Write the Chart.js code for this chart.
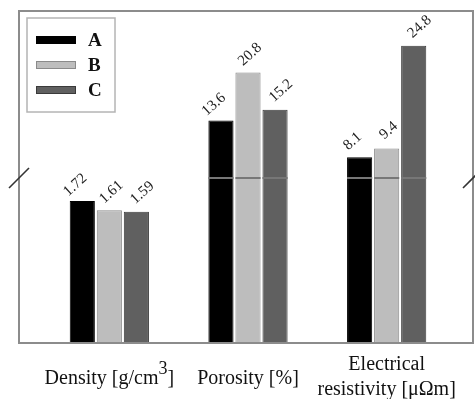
<!DOCTYPE html>
<html><head><meta charset="utf-8">
<script src="https://cdn.jsdelivr.net/npm/chart.js@4.4.1/dist/chart.umd.min.js"></script>
<style>html,body{margin:0;padding:0;background:#fff;} canvas{display:block;}</style>
</head><body>
<canvas id="c" width="475" height="399"></canvas>
<script>
// ---- data ----
const categories = ['Density [g/cm³]', 'Porosity [%]', ['Electrical', 'resistivity [μΩm]']];
const seriesNames = ['A', 'B', 'C'];
const seriesA = [1.72, 13.6, 8.1];
const seriesB = [1.61, 20.8, 9.4];
const seriesC = [1.59, 15.2, 24.8];
const lowerRange = [0, 2];   // below the axis break
const upperRange = [5, 30];  // above the axis break

// ---- styles ----
const fills = ['#000000', '#bdbdbd', '#606060'];
const edges = ['#000000', '#8a8a8a', '#3a3a3a'];
const labelDx = [-7, 2, 6];
const labelDy = [-16, -18, -19];
const allSeries = [seriesA, seriesB, seriesC];
const SERIF = '"Liberation Serif", "DejaVu Serif", serif';

const datasets = [];
allSeries.forEach((vals, i) => {
  datasets.push({
    label: seriesNames[i], stack: seriesNames[i], yAxisID: 'yLow',
    data: vals.map(v => Math.min(v, lowerRange[1])),
    backgroundColor: fills[i], borderColor: edges[i], borderWidth: 1, borderSkipped: 'start'
  });
  datasets.push({
    label: seriesNames[i] + '_up', stack: seriesNames[i], yAxisID: 'yUp', base: upperRange[0],
    data: vals.map(v => v > lowerRange[1] ? v : null),
    backgroundColor: fills[i], borderColor: edges[i], borderWidth: 1, borderSkipped: 'start'
  });
});

const FRAME_L = 21, FRAME_R = 17;
const CAT_FONT = '20px ' + SERIF;
const SUP_FONT = '18px ' + SERIF;

function drawLine(ctx, text, cx, y) {
  // renders '³' as a raised full digit
  const parts = text.split('³');
  let w = 0;
  parts.forEach((p, k) => {
    ctx.font = CAT_FONT; w += ctx.measureText(p).width;
    if (k < parts.length - 1) { ctx.font = SUP_FONT; w += ctx.measureText('3').width; }
  });
  let x = cx - w / 2;
  ctx.textAlign = 'left';
  parts.forEach((p, k) => {
    ctx.font = CAT_FONT; ctx.fillText(p, x, y); x += ctx.measureText(p).width;
    if (k < parts.length - 1) { ctx.font = SUP_FONT; ctx.fillText('3', x, y - 10); x += ctx.measureText('3').width; }
  });
}

const decor = {
  id: 'decor',
  afterDatasetsDraw(chart) {
    const ctx = chart.ctx;
    const ca = chart.chartArea;
    const yLow = chart.scales.yLow;
    const xs = chart.scales.x;
    const breakY = yLow.top;
    const fl = ca.left - FRAME_L, fr = ca.right + FRAME_R;
    ctx.save();
    // break line across bars that cross the break
    allSeries.forEach((vals, i) => {
      const upMeta = chart.getDatasetMeta(i * 2 + 1);
      vals.forEach((v, j) => {
        if (v > lowerRange[1]) {
          const el = upMeta.data[j];
          ctx.strokeStyle = '#777';
          ctx.lineWidth = 2;
          ctx.beginPath();
          ctx.moveTo(el.x - el.width / 2, breakY);
          ctx.lineTo(el.x + el.width / 2, breakY);
          ctx.stroke();
        }
      });
    });
    // frame
    ctx.strokeStyle = '#8c8c8c';
    ctx.lineWidth = 2;
    ctx.strokeRect(fl, ca.top, fr - fl, ca.bottom - ca.top);
    // break marks
    ctx.strokeStyle = '#333';
    ctx.lineWidth = 1.6;
    [fl, fr].forEach(cx => {
      ctx.beginPath();
      ctx.moveTo(cx - 10, breakY + 10);
      ctx.lineTo(cx + 10, breakY - 10);
      ctx.stroke();
    });
    // value labels
    ctx.fillStyle = '#222';
    ctx.font = '15px ' + SERIF;
    ctx.textAlign = 'center';
    ctx.textBaseline = 'middle';
    allSeries.forEach((vals, i) => {
      vals.forEach((v, j) => {
        const meta = chart.getDatasetMeta(v > lowerRange[1] ? i * 2 + 1 : i * 2);
        const el = meta.data[j];
        ctx.save();
        ctx.translate(el.x + labelDx[i], el.y + labelDy[i]);
        ctx.rotate(-42 * Math.PI / 180);
        ctx.fillText(String(v), 0, 0);
        ctx.restore();
      });
    });
    // category labels
    ctx.fillStyle = '#111';
    ctx.textBaseline = 'alphabetic';
    categories.forEach((lab, j) => {
      const cx = xs.getPixelForTick(j);
      const lines = Array.isArray(lab) ? lab : [lab];
      if (lines.length === 1) drawLine(ctx, lines[0], cx, ca.bottom + 41);
      else lines.forEach((ln, k) => drawLine(ctx, ln, cx, ca.bottom + 27 + k * 25));
    });
    // legend
    const lx = fl + 8, ly = ca.top + 7;
    ctx.strokeStyle = '#b4b4b4';
    ctx.lineWidth = 1.5;
    ctx.strokeRect(lx, ly, 88, 94);
    ctx.font = 'bold 19px ' + SERIF;
    ctx.textAlign = 'left';
    ctx.textBaseline = 'middle';
    seriesNames.forEach((name, i) => {
      const cy = ly + 22 + i * 25;
      ctx.fillStyle = fills[i];
      ctx.fillRect(lx + 9, cy - 4, 40, 8);
      ctx.strokeStyle = edges[i];
      ctx.lineWidth = 1;
      ctx.strokeRect(lx + 9.5, cy - 3.5, 39, 7);
      ctx.fillStyle = '#111';
      ctx.fillText(name, lx + 61, cy + 1);
    });
    ctx.restore();
  }
};

new Chart(document.getElementById('c'), {
  type: 'bar',
  data: { labels: categories, datasets },
  options: {
    responsive: false,
    animation: false,
    devicePixelRatio: 1,
    categoryPercentage: 0.585,
    barPercentage: 0.93,
    layout: { padding: { left: 40, right: 19, top: 11, bottom: 56 } },
    plugins: { legend: { display: false }, tooltip: { enabled: false } },
    scales: {
      x: {
        type: 'category',
        grid: { display: false, drawTicks: false },
        border: { display: false },
        ticks: { display: false }
      },
      yLow: {
        type: 'linear', position: 'left', stack: 'ys', stackWeight: 165,
        min: lowerRange[0], max: lowerRange[1], stacked: false, display: false
      },
      yUp: {
        type: 'linear', position: 'left', stack: 'ys', stackWeight: 167,
        min: upperRange[0], max: upperRange[1], stacked: false, display: false
      }
    }
  },
  plugins: [decor]
});
</script>
</body></html>
